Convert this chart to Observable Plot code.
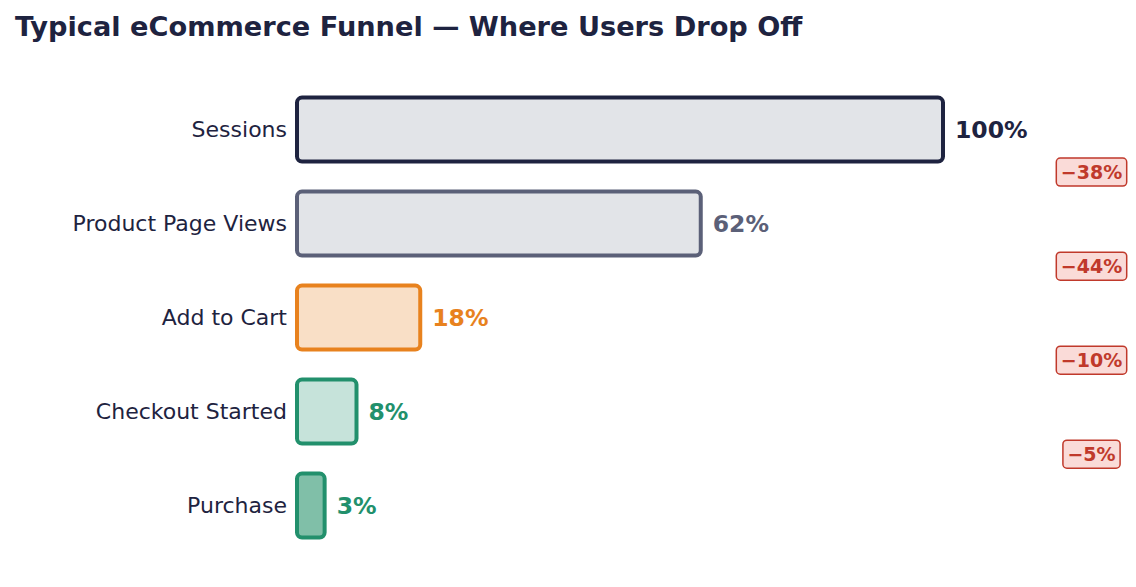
<!DOCTYPE html>
<html><head><meta charset="utf-8">
<script src="https://cdn.jsdelivr.net/npm/d3@7"></script>
<script src="https://cdn.jsdelivr.net/npm/@observablehq/plot@0.6"></script>
<style>
body{margin:0;background:#fff;font-family:"DejaVu Sans",sans-serif;}
#title{box-sizing:border-box;height:50px;padding:13px 0 0 15px;font:bold 27.2px/1 "DejaVu Sans",sans-serif;color:#1e2340;white-space:nowrap;}
</style></head><body>
<div id="title">Typical eCommerce Funnel — Where Users Drop Off</div>
<div id="chart"></div>
<script>
const stages = ["Sessions", "Product Page Views", "Add to Cart", "Checkout Started", "Purchase"];
const values = [100, 62, 18, 8, 3];
const strokeColors = ["#1e2340", "#5b6078", "#e8821e", "#22906c", "#22906c"];
const fillColors = ["#e2e4e8", "#e2e4e8", "#f9dfc6", "#c6e3da", "#80bfa8"];

const data = stages.map((s, i) => ({stage: s, value: values[i], stroke: strokeColors[i], fill: fillColors[i]}));
const drops = stages.slice(0, -1).map((s, i) => ({stage: s, label: `−${values[i] - values[i + 1]}%`}));
const dropLabels = new Set(drops.map(d => d.label));

const plot = Plot.plot({
  width: 1136, height: 537,
  marginLeft: 305.5, marginRight: 193, marginTop: 17.5, marginBottom: 19.4,
  x: {domain: [0, 100], axis: null},
  y: {domain: stages, padding: 0.32, round: false, axis: null},
  color: {type: "identity"},
  style: {fontFamily: "DejaVu Sans, sans-serif", background: "white", color: "#1e2340"},
  marks: [
    Plot.text(data, {y: "stage", frameAnchor: "left", textAnchor: "end", dx: -19, text: "stage", fontSize: 22, fill: "#1e2340"}),
    Plot.barX(data, {y: "stage", x1: 0, x2: "value", fill: "fill", stroke: "stroke", strokeWidth: 4, rx: 5, insetLeft: -8.5}),
    Plot.text(data, {y: "stage", x: "value", text: d => d.value + "%", fill: "stroke", textAnchor: "start", dx: 11.5, fontSize: 23.5, fontWeight: "bold"}),
    Plot.text(drops, {y: "stage", frameAnchor: "right", textAnchor: "middle", dx: 148, dy: 43, text: "label", fill: "#c0392b", fontSize: 19, fontWeight: "bold"})
  ]
});
document.getElementById("chart").append(plot);
Array.from(plot.querySelectorAll("text")).filter(t => dropLabels.has(t.textContent.trim())).forEach(t => {
  const b = t.getBBox();
  const r = document.createElementNS("http://www.w3.org/2000/svg", "rect");
  r.setAttribute("x", b.x - 4.5);
  r.setAttribute("y", b.y - 3);
  r.setAttribute("width", b.width + 9);
  r.setAttribute("height", b.height + 6);
  r.setAttribute("rx", 4);
  r.setAttribute("fill", "#fadbd8");
  r.setAttribute("stroke", "#c0392b");
  r.setAttribute("stroke-width", 1.5);
  const tr = t.getAttribute("transform");
  if (tr) r.setAttribute("transform", tr);
  t.parentNode.insertBefore(r, t);
});
</script>
</body></html>
